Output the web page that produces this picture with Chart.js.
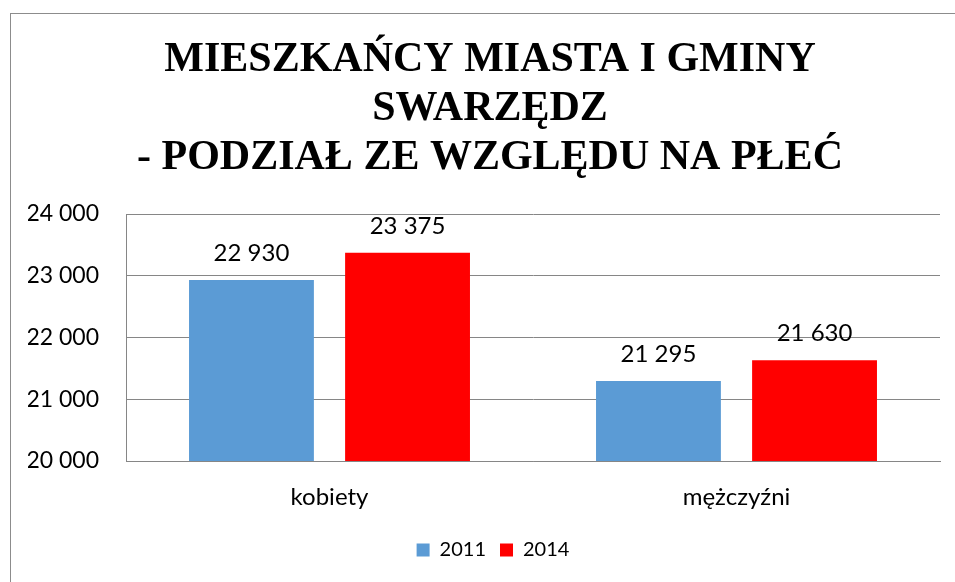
<!DOCTYPE html>
<html><head><meta charset="utf-8">
<script src="https://cdn.jsdelivr.net/npm/chart.js@4/dist/chart.umd.min.js"></script>
<style>
html,body{margin:0;padding:0;background:#fff;overflow:hidden;}
#frame{position:absolute;left:10px;top:13px;width:1000px;height:700px;border:1px solid #8c8c8c;box-sizing:border-box;}
#wrap{position:absolute;left:0;top:0;width:955px;height:582px;}
</style></head>
<body>
<div id="frame"></div>
<div id="wrap"><canvas id="c" width="955" height="582"></canvas></div>
<script>
const categories = ['kobiety', 'mężczyźni'];
const seriesLabels = ['2011', '2014'];
const values2011 = [22930, 21295];
const values2014 = [23375, 21630];
const titleLines = ['MIESZKAŃCY MIASTA I GMINY', 'SWARZĘDZ', '- PODZIAŁ ZE WZGLĘDU NA PŁEĆ'];
const yTicks = { min: 20000, max: 24000, step: 1000 };

const fmt = v => String(Math.round(v)).replace(/\B(?=(\d{3})+(?!\d))/g, ' ');
const FONT = 'Lato, "Open Sans", sans-serif';

const dataLabels = {
  id: 'dataLabels',
  afterDatasetsDraw(chart) {
    const ctx = chart.ctx;
    ctx.save();
    ctx.font = '24px ' + FONT;
    ctx.fillStyle = '#000';
    ctx.textAlign = 'center';
    ctx.textBaseline = 'alphabetic';
    chart.data.datasets.forEach((ds, i) => {
      chart.getDatasetMeta(i).data.forEach((bar, j) => {
        ctx.fillText(fmt(ds.data[j]), bar.x, bar.y - 19);
      });
    });
    ctx.restore();
  }
};

// shift the title and legend blocks slightly right so their centres match the reference
const blockShift = {
  id: 'blockShift',
  afterLayout(chart) {
    if (chart.titleBlock) { chart.titleBlock.left += 12; }
    if (chart.legend) { chart.legend.left += 18; }
  }
};

function build() {
  new Chart(document.getElementById('c'), {
    type: 'bar',
    data: {
      labels: categories,
      datasets: [
        { label: seriesLabels[0], data: values2011, backgroundColor: '#5B9BD5' },
        { label: seriesLabels[1], data: values2014, backgroundColor: '#FF0000' }
      ]
    },
    options: {
      responsive: false,
      animation: false,
      devicePixelRatio: 1,
      categoryPercentage: 0.767,
      barPercentage: 0.8,
      layout: { padding: { left: 28, right: 15, top: 36, bottom: 12 } },
      plugins: {
        title: {
          display: true,
          text: titleLines,
          color: '#000',
          font: { family: '"Liberation Serif", "Times New Roman", serif', size: 42, weight: 'bold', lineHeight: 1.167 },
          padding: { top: 0, bottom: 31 }
        },
        legend: {
          position: 'bottom',
          labels: {
            color: '#000',
            font: { family: FONT, size: 20 },
            boxWidth: 13, boxHeight: 13,
            padding: 14
          }
        },
        tooltip: { enabled: false }
      },
      scales: {
        x: {
          grid: { display: false, drawTicks: false },
          border: { color: '#868686' },
          ticks: { color: '#000', font: { family: FONT, size: 24 }, padding: 22 },
          afterFit: s => { s.height = 65; }
        },
        y: {
          min: yTicks.min, max: yTicks.max,
          grid: { color: '#868686', drawTicks: false },
          border: { color: '#868686' },
          ticks: { stepSize: yTicks.step, color: '#000', font: { family: FONT, size: 23 }, padding: 27, callback: v => fmt(v) },
          afterFit: s => { s.width = 98; }
        }
      }
    },
    plugins: [dataLabels, blockShift]
  });
}

Promise.all([
  document.fonts.load('23px Lato'),
  document.fonts.load('bold 42px "Liberation Serif"')
]).then(build, build);
</script>
</body></html>
